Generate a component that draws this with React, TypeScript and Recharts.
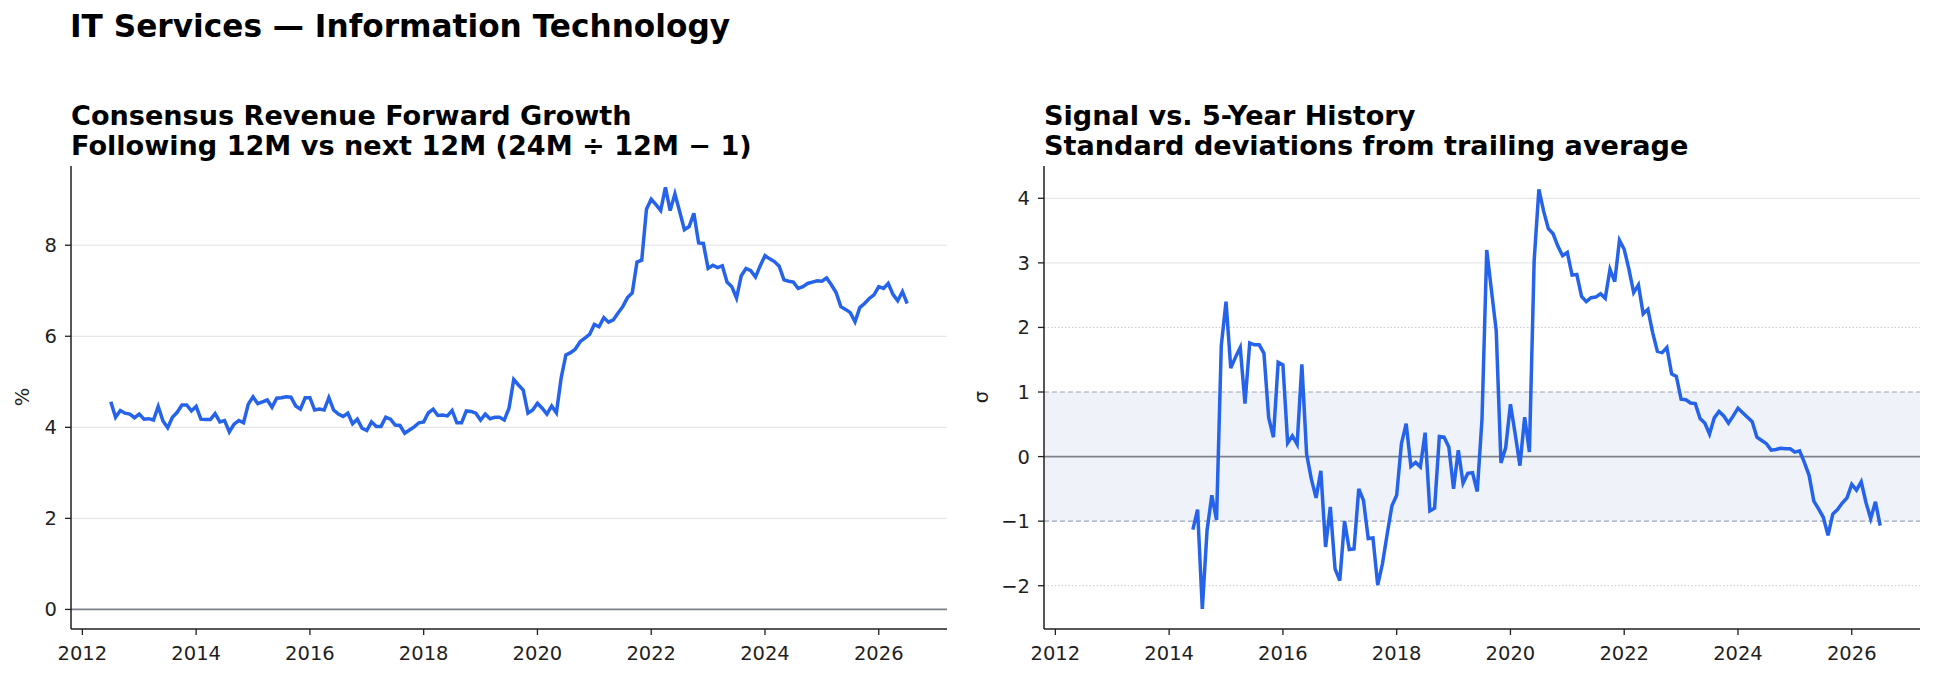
import React from 'react';
import { LineChart, Line, XAxis, YAxis, ReferenceLine, ReferenceArea } from 'recharts';

// monthly series, first point Jul 2012
const growthStart = { year: 2012, month: 7 };
const growthValues = [
  4.56, 4.22, 4.37, 4.31, 4.29, 4.21, 4.29, 4.18, 4.19, 4.16, 4.46, 4.14,
  3.99, 4.22, 4.33, 4.49, 4.49, 4.36, 4.46, 4.18, 4.17, 4.17, 4.3, 4.12,
  4.15, 3.9, 4.07, 4.15, 4.1, 4.51, 4.67, 4.52, 4.56, 4.6, 4.44, 4.64,
  4.65, 4.67, 4.66, 4.47, 4.4, 4.65, 4.65, 4.38, 4.4, 4.38, 4.65, 4.38,
  4.29, 4.24, 4.31, 4.08, 4.18, 3.98, 3.93, 4.12, 4.02, 4.02, 4.22, 4.18,
  4.05, 4.04, 3.87, 3.94, 4.01, 4.1, 4.12, 4.32, 4.4, 4.26, 4.27, 4.25,
  4.37, 4.1, 4.1, 4.36, 4.35, 4.31, 4.16, 4.29, 4.19, 4.22, 4.22, 4.16,
  4.42, 5.05, 4.93, 4.82, 4.31, 4.38, 4.53, 4.42, 4.29, 4.47, 4.32, 5.08,
  5.59, 5.64, 5.72, 5.88, 5.96, 6.04, 6.26, 6.21, 6.41, 6.31, 6.36, 6.51,
  6.65, 6.85, 6.95, 7.63, 7.67, 8.79, 9.01, 8.89, 8.76, 9.27, 8.76, 9.13,
  8.74, 8.34, 8.41, 8.7, 8.05, 8.04, 7.49, 7.56, 7.51, 7.55, 7.19, 7.09,
  6.84, 7.33, 7.49, 7.44, 7.3, 7.55, 7.77, 7.7, 7.64, 7.54, 7.24, 7.21,
  7.19, 7.05, 7.09, 7.16, 7.19, 7.22, 7.21, 7.28, 7.13, 6.96, 6.65, 6.59,
  6.52, 6.32, 6.63, 6.72, 6.83, 6.91, 7.09, 7.05, 7.16, 6.92, 6.78, 6.98,
  6.72,
];

// z-score vs trailing 5y, first point Jun 2014
const sigmaStart = { year: 2014, month: 6 };
const sigmaValues = [
  -1.13, -0.82, -2.36, -1.14, -0.6, -0.98, 1.72, 2.4, 1.37, 1.54, 1.69, 0.82,
  1.76, 1.73, 1.73, 1.6, 0.6, 0.3, 1.46, 1.42, 0.21, 0.32, 0.19, 1.43,
  0.04, -0.35, -0.64, -0.22, -1.4, -0.78, -1.74, -1.92, -1.0, -1.44, -1.43, -0.5,
  -0.68, -1.27, -1.26, -1.99, -1.66, -1.2, -0.76, -0.6, 0.2, 0.51, -0.15, -0.09,
  -0.16, 0.37, -0.84, -0.8, 0.31, 0.3, 0.15, -0.5, 0.1, -0.41, -0.26, -0.25,
  -0.54, 0.58, 3.2, 2.57, 1.95, -0.1, 0.14, 0.81, 0.35, -0.14, 0.61, 0.07,
  3.03, 4.14, 3.8, 3.53, 3.45, 3.26, 3.11, 3.16, 2.81, 2.82, 2.48, 2.4,
  2.46, 2.47, 2.52, 2.45, 2.9, 2.71, 3.35, 3.21, 2.9, 2.54, 2.66, 2.21,
  2.28, 1.92, 1.63, 1.61, 1.69, 1.28, 1.24, 0.89, 0.88, 0.83, 0.82, 0.59,
  0.52, 0.35, 0.6, 0.7, 0.63, 0.52, 0.63, 0.75, 0.68, 0.61, 0.54, 0.3,
  0.25, 0.2, 0.1, 0.11, 0.13, 0.12, 0.12, 0.07, 0.09, -0.09, -0.29, -0.69,
  -0.81, -0.94, -1.22, -0.89, -0.82, -0.72, -0.64, -0.43, -0.52, -0.39, -0.71, -0.96,
  -0.7, -1.07,
];

const yearTicks = [2012, 2014, 2016, 2018, 2020, 2022, 2024, 2026];
const growthTicks = [0, 2, 4, 6, 8];
const sigmaTicks = [-2, -1, 0, 1, 2, 3, 4];

const toRows = (start: { year: number; month: number }, values: number[]) =>
  values.map((v, i) => {
    const m = start.month - 1 + i;
    return { t: start.year + Math.floor(m / 12) + (m % 12) / 12, v };
  });

const growthData = toRows(growthStart, growthValues);
const sigmaData = toRows(sigmaStart, sigmaValues);

const FONT = '"DejaVu Sans", sans-serif';
const BLUE = '#2563eb';
const INK = '#1f1f1f';
const X_DOMAIN: [number, number] = [2011.8, 2027.2];
const TICK_FS = 19.5;

const minus = (v: number) => (v < 0 ? `\u2212${Math.abs(v)}` : String(v));

const tickStyle = { fill: INK, fontSize: TICK_FS, fontFamily: FONT };
const axisLine = { stroke: INK, strokeWidth: 1.5 };
const tickLine = { stroke: INK, strokeWidth: 1.3 };

export default function App() {
  const chartBox = { position: 'absolute' as const, top: 150 };
  return (
    <div style={{ position: 'absolute', left: 0, top: 0, width: 1934, height: 679, background: '#fff', fontFamily: FONT }}>
      <div style={{ ...chartBox, left: 0 }}>
        <LineChart width={960} height={529} data={growthData} margin={{ top: 16, right: 13, bottom: 0, left: 0 }}>
          <XAxis
            dataKey="t" type="number" domain={X_DOMAIN} ticks={yearTicks} allowDataOverflow
            height={50} tick={tickStyle} tickSize={6} tickMargin={11} axisLine={axisLine} tickLine={tickLine}
          />
          <YAxis
            type="number" domain={[-0.43, 9.74]} ticks={growthTicks} allowDataOverflow
            width={71} tick={tickStyle} tickSize={6} tickMargin={8} axisLine={axisLine} tickLine={tickLine}
          />
          {[2, 4, 6, 8].map((g) => (
            <ReferenceLine key={g} y={g} stroke="#e0e1e7" strokeWidth={1} />
          ))}
          <ReferenceLine y={0} stroke="#7d818c" strokeWidth={1.6} />
          <Line type="linear" dataKey="v" stroke={BLUE} strokeWidth={3.5} dot={false} isAnimationActive={false} />
        </LineChart>
      </div>

      <div style={{ ...chartBox, left: 973 }}>
        <LineChart width={960} height={529} data={sigmaData} margin={{ top: 16, right: 13, bottom: 0, left: 0 }}>
          <XAxis
            dataKey="t" type="number" domain={X_DOMAIN} ticks={yearTicks} allowDataOverflow
            height={50} tick={tickStyle} tickSize={6} tickMargin={11} axisLine={axisLine} tickLine={tickLine}
          />
          <YAxis
            type="number" domain={[-2.67, 4.5]} ticks={sigmaTicks} allowDataOverflow tickFormatter={minus}
            width={71} tick={tickStyle} tickSize={6} tickMargin={8} axisLine={axisLine} tickLine={tickLine}
          />
          <ReferenceArea y1={-1} y2={1} fill="#eff3f9" fillOpacity={1} stroke="none" />
          {[3, 4].map((g) => (
            <ReferenceLine key={g} y={g} stroke="#e0e1e7" strokeWidth={1} />
          ))}
          {[2, -2].map((g) => (
            <ReferenceLine key={g} y={g} stroke="#c3c8d3" strokeWidth={1} strokeDasharray="1.5 2" />
          ))}
          {[1, -1].map((g) => (
            <ReferenceLine key={g} y={g} stroke="#9ca5b7" strokeWidth={1.2} strokeDasharray="5 3" />
          ))}
          <ReferenceLine y={0} stroke="#7d818c" strokeWidth={1.6} />
          <Line type="linear" dataKey="v" stroke={BLUE} strokeWidth={3.5} dot={false} isAnimationActive={false} />
        </LineChart>
      </div>

      <svg width={1934} height={679} style={{ position: 'absolute', left: 0, top: 0, pointerEvents: 'none' }}>
        <g fontFamily={FONT} fontWeight="bold" fill="#000">
          <text x={70} y={37} fontSize={31.2}>IT Services — Information Technology</text>
          <text x={71} y={125} fontSize={27.1}>Consensus Revenue Forward Growth</text>
          <text x={71} y={155} fontSize={27.1}>Following 12M vs next 12M (24M ÷ 12M − 1)</text>
          <text x={1044} y={125} fontSize={27.1}>Signal vs. 5-Year History</text>
          <text x={1044} y={155} fontSize={27.1}>Standard deviations from trailing average</text>
        </g>
        <g fontFamily={FONT} fill={INK} fontSize={TICK_FS} textAnchor="middle">
          <text transform="translate(29,397) rotate(-90)">%</text>
          <text transform="translate(988,397) rotate(-90)">σ</text>
        </g>
      </svg>
    </div>
  );
}
